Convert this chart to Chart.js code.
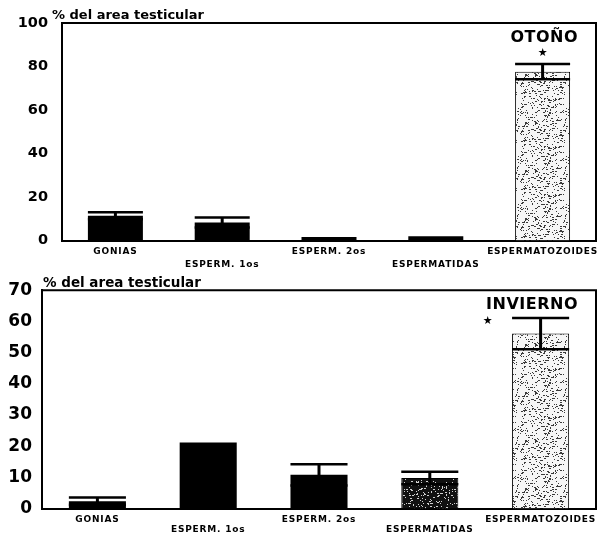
<!DOCTYPE html>
<html><head><meta charset="utf-8">
<script src="https://cdn.jsdelivr.net/npm/chart.js@4.4.1/dist/chart.umd.min.js"></script>
<style>
html,body{margin:0;padding:0;background:#fff;width:597px;height:534px;overflow:hidden}
.box{position:absolute;left:0;width:597px}
#b1{top:0;height:270px}
#b2{top:270px;height:264px}
canvas{display:block}
</style></head><body>
<div class="box" id="b1"><canvas id="c1" width="597" height="270"></canvas></div>
<div class="box" id="b2"><canvas id="c2" width="597" height="264"></canvas></div>
<script>
// ---- data ----
const categories = ['GONIAS', 'ESPERM. 1os', 'ESPERM. 2os', 'ESPERMATIDAS', 'ESPERMATOZOIDES'];
const otonoValues = [11.4, 8.3, 1.6, 1.9, 77.6];
const otonoErrors = [1.6, 2.3, 0, 0, 3.5];
const inviernoValues = [2.35, 21.2, 10.8, 9.8, 56.1];
const inviernoErrors = [1.15, 0, 3.4, 2.0, 5.0];
const otonoTicks = [0, 20, 40, 60, 80, 100];
const inviernoTicks = [0, 10, 20, 30, 40, 50, 60, 70];
const yTitle = '% del area testicular';
const otonoLabel = 'OTOÑO';
const inviernoLabel = 'INVIERNO';
const starMark = '★';

Chart.defaults.color = '#000';
Chart.defaults.font.family = 'DejaVu Sans';

// speckled textures (deterministic)
function makePattern(base, dot, density, seed) {
  const n = 48;
  const c = document.createElement('canvas'); c.width = n; c.height = n;
  const g = c.getContext('2d');
  g.fillStyle = base; g.fillRect(0, 0, n, n);
  g.fillStyle = dot;
  let s = seed;
  const next = () => { s = (s * 16807) % 2147483647; return s / 2147483647; };
  const count = Math.floor(n * n * density);
  for (let i = 0; i < count; i++) {
    const x = Math.floor(next() * n), y = Math.floor(next() * n);
    const w = next() < 0.25 ? 2 : 1;
    g.fillRect(x, y, w, 1);
  }
  return g.createPattern(c, 'repeat');
}
const lightSpeckle = makePattern('#f6f6f6', '#3a3a3a', 0.13, 12345);
const darkSpeckle = makePattern('#111111', '#d0d0d0', 0.12, 67890);

const xLabels = categories.map((c, i) => (i % 2 ? ['', c] : c));

const paperPlugin = {
  id: 'paper',
  beforeDraw(chart) { chart.ctx.letterSpacing = '0.8px'; },
  beforeDatasetsDraw(chart) { chart.ctx.letterSpacing = '0px'; },
  afterDatasetsDraw(chart, args, opts) {
    const ctx = chart.ctx, y = chart.scales.y, meta = chart.getDatasetMeta(0);
    const vals = chart.data.datasets[0].data, errs = opts.errors;
    ctx.save();
    ctx.letterSpacing = '0px';
    ctx.strokeStyle = '#000';
    meta.data.forEach((bar, i) => {
      const e = errs[i];
      if (!e) return;
      const hi = y.getPixelForValue(vals[i] + e), lo = y.getPixelForValue(vals[i] - e);
      const half = bar.width / 2;
      ctx.lineWidth = 3;
      ctx.beginPath(); ctx.moveTo(bar.x, hi); ctx.lineTo(bar.x, lo); ctx.stroke();
      ctx.lineWidth = 2.5;
      ctx.beginPath();
      ctx.moveTo(bar.x - half, hi); ctx.lineTo(bar.x + half, hi);
      ctx.moveTo(bar.x - half, lo); ctx.lineTo(bar.x + half, lo);
      ctx.stroke();
    });
    const a = chart.chartArea;
    ctx.lineWidth = 2;
    ctx.beginPath();
    ctx.moveTo(a.left, a.top); ctx.lineTo(a.right, a.top); ctx.lineTo(a.right, a.bottom);
    ctx.stroke();
    ctx.restore();
  },
  afterDraw(chart, args, opts) {
    const ctx = chart.ctx, a = chart.chartArea, y = chart.scales.y;
    const meta = chart.getDatasetMeta(0);
    const vals = chart.data.datasets[0].data;
    ctx.save();
    ctx.fillStyle = '#000';
    ctx.letterSpacing = '0px';
    ctx.font = 'bold ' + opts.titleSize + 'px "DejaVu Sans"';
    ctx.textAlign = 'left'; ctx.textBaseline = 'alphabetic';
    ctx.fillText(yTitle, a.left + opts.titleDx, a.top + opts.titleDy);
    ctx.letterSpacing = '0.5px';
    ctx.font = 'bold 16px "DejaVu Sans"';
    ctx.textAlign = 'right'; ctx.textBaseline = 'middle';
    ctx.fillText(opts.season, a.right + opts.seasonDx, a.top + opts.seasonDy);
    ctx.letterSpacing = '0px';
    const last = meta.data.length - 1;
    const bar = meta.data[last];
    const capY = y.getPixelForValue(vals[last] + opts.errors[last]);
    ctx.font = '11px "DejaVu Sans"';
    ctx.textAlign = 'center';
    ctx.fillText(starMark, bar.x + opts.starDx, capY + opts.starDy);
    ctx.restore();
  }
};

function makeChart(id, values, errors, ticks, max, colors, borders, o) {
  return new Chart(document.getElementById(id), {
    type: 'bar',
    data: {
      labels: xLabels,
      datasets: [{
        data: values,
        backgroundColor: colors,
        borderColor: '#000',
        borderWidth: borders,
        borderSkipped: 'bottom',
        categoryPercentage: 1,
        barPercentage: 0.515
      }]
    },
    options: {
      responsive: false,
      animation: false,
      devicePixelRatio: 1,
      layout: { padding: { top: o.padTop, left: 0, right: 1, bottom: 0 } },
      plugins: {
        legend: { display: false },
        tooltip: { enabled: false },
        paper: {
          errors: errors, season: o.season,
          titleSize: o.titleSize, titleDx: o.titleDx, titleDy: o.titleDy,
          seasonDx: -18, seasonDy: 15, starDx: o.starDx, starDy: o.starDy
        }
      },
      scales: {
        x: {
          grid: { display: false, drawTicks: false },
          border: { display: true, color: '#000', width: 2 },
          ticks: {
            autoSkip: false, maxRotation: 0, minRotation: 0, padding: o.xPad,
            font: { family: 'DejaVu Sans', weight: 'bold', size: 9, lineHeight: o.xLine }
          },
          afterFit(s) { s.height = o.xHeight; s.paddingLeft = 0; s.paddingRight = 0; }
        },
        y: {
          min: 0, max: max,
          grid: { display: false, drawTicks: false },
          border: { display: true, color: '#000', width: 2 },
          ticks: {
            z: 1, padding: o.yPad,
            font: { family: 'DejaVu Sans', weight: 'bold', size: o.ySize }
          },
          afterBuildTicks(s) { s.ticks = ticks.map(v => ({ value: v })); },
          afterFit(s) { s.width = o.yWidth; }
        }
      }
    },
    plugins: [paperPlugin]
  });
}

makeChart('c1', otonoValues, otonoErrors, otonoTicks, 100,
  ['#000', '#000', '#000', '#000', lightSpeckle], [0, 0, 0, 0, 1],
  { padTop: 23, xHeight: 29.5, xPad: 4.5, xLine: 13 / 9, yPad: 14, ySize: 14.5, yWidth: 62,
    season: otonoLabel, titleSize: 13, titleDx: -10, titleDy: -4, starDx: 0, starDy: -11 });

makeChart('c2', inviernoValues, inviernoErrors, inviernoTicks, 70,
  ['#000', '#000', '#000', darkSpeckle, lightSpeckle], [0, 0, 0, 1, 1],
  { padTop: 15, xHeight: 25.5, xPad: 6.5, xLine: 10 / 9, yPad: 10, ySize: 17, yWidth: 42,
    season: inviernoLabel, titleSize: 13.5, titleDx: 1, titleDy: -3.5, starDx: -53, starDy: 3 });
</script>
</body></html>
